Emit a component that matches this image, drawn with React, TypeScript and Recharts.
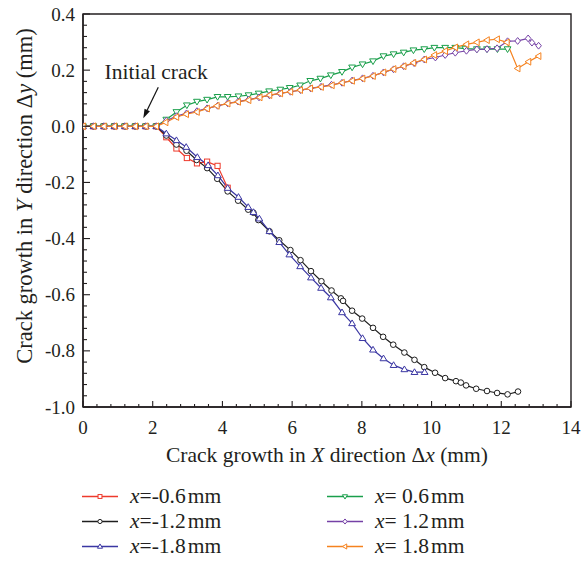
import React from "react";
import {
  LineChart,
  Line,
  XAxis,
  YAxis,
  Legend,
  ReferenceArea,
  ReferenceLine,
  ReferenceDot,
} from "recharts";

type Pt = [number, number];

// shared flat start (all six curves sit on 0 before the crack turns)
const start: Pt[] = [
  [0, 0], [0.3, 0], [0.6, 0], [0.9, 0], [1.2, 0], [1.5, 0], [1.8, 0], [2.1, 0],
];

const xm06: Pt[] = [
  ...start,
  [2.39, -0.039], [2.68, -0.079], [2.98, -0.113], [3.27, -0.132], [3.56, -0.126],
  [3.86, -0.141], [4.15, -0.219],
];

const xm12: Pt[] = [
  ...start,
  [2.39, -0.033], [2.68, -0.065], [2.97, -0.087], [3.26, -0.12], [3.56, -0.149],
  [3.85, -0.187], [4.15, -0.232], [4.45, -0.265], [4.74, -0.297], [4.89, -0.308],
  [5.03, -0.334], [5.35, -0.374], [5.63, -0.406], [5.95, -0.441], [6.24, -0.477],
  [6.54, -0.516], [6.84, -0.552], [7.13, -0.585], [7.4, -0.613], [7.46, -0.622],
  [7.72, -0.657], [8.01, -0.685], [8.32, -0.718], [8.61, -0.75], [8.9, -0.778],
  [9.22, -0.806], [9.51, -0.832], [9.79, -0.858], [10.1, -0.878], [10.39, -0.897],
  [10.7, -0.908], [10.84, -0.913], [10.99, -0.923], [11.28, -0.935], [11.59, -0.943],
  [11.88, -0.95], [12.18, -0.955], [12.48, -0.945],
];

const xm18: Pt[] = [
  ...start,
  [2.39, -0.026], [2.68, -0.05], [2.96, -0.074], [3.28, -0.11], [3.59, -0.139],
  [3.87, -0.175], [4.15, -0.22], [4.46, -0.252], [4.74, -0.288], [4.89, -0.306],
  [5.06, -0.329], [5.35, -0.374], [5.63, -0.413], [5.92, -0.457], [6.23, -0.499],
  [6.54, -0.539], [6.83, -0.576], [7.11, -0.61], [7.43, -0.663], [7.72, -0.702],
  [8.02, -0.755], [8.32, -0.796], [8.62, -0.827], [8.91, -0.851], [9.22, -0.866],
  [9.51, -0.876], [9.8, -0.876],
];

const xp06: Pt[] = [
  ...start,
  [2.39, 0.024], [2.68, 0.051], [2.98, 0.075], [3.27, 0.088], [3.56, 0.095],
  [3.86, 0.105], [4.15, 0.105], [4.46, 0.107], [4.75, 0.111], [5.04, 0.117],
  [5.34, 0.125], [5.66, 0.131], [5.93, 0.137], [6.23, 0.146], [6.52, 0.162],
  [6.81, 0.17], [7.11, 0.182], [7.43, 0.194], [7.72, 0.21], [8.02, 0.221],
  [8.32, 0.232], [8.62, 0.25], [8.91, 0.257], [9.2, 0.263], [9.48, 0.271],
  [9.79, 0.275], [10.08, 0.28], [10.39, 0.28], [10.68, 0.28], [10.97, 0.277],
  [11.3, 0.275], [11.59, 0.275], [11.89, 0.275], [12.18, 0.275],
];

const xp12: Pt[] = [
  ...start,
  [2.39, 0.02], [2.68, 0.036], [2.97, 0.046], [3.27, 0.054], [3.56, 0.064],
  [3.86, 0.073], [4.15, 0.082], [4.45, 0.088], [4.75, 0.095], [5.05, 0.103],
  [5.35, 0.11], [5.65, 0.117], [5.95, 0.123], [6.24, 0.129], [6.53, 0.135],
  [6.83, 0.141], [7.13, 0.148], [7.43, 0.155], [7.72, 0.163], [8.02, 0.171],
  [8.32, 0.18], [8.62, 0.192], [8.91, 0.203], [9.2, 0.214], [9.5, 0.225],
  [9.79, 0.238], [10.11, 0.245], [10.39, 0.254], [10.68, 0.262], [11.0, 0.269],
  [11.3, 0.274], [11.59, 0.275], [11.88, 0.278], [12.18, 0.303], [12.47, 0.304],
  [12.77, 0.313], [12.88, 0.298], [13.07, 0.287],
];

const xp18: Pt[] = [
  ...start,
  [2.37, 0.014], [2.68, 0.033], [2.96, 0.043], [3.27, 0.051], [3.56, 0.063],
  [3.84, 0.073], [4.15, 0.081], [4.45, 0.087], [4.75, 0.093], [5.07, 0.103],
  [5.35, 0.111], [5.66, 0.117], [5.95, 0.123], [6.23, 0.129], [6.52, 0.135],
  [6.83, 0.14], [7.14, 0.146], [7.43, 0.155], [7.72, 0.162], [8.02, 0.17],
  [8.32, 0.179], [8.62, 0.192], [8.91, 0.204], [9.2, 0.214], [9.48, 0.226],
  [9.79, 0.238], [10.08, 0.254], [10.39, 0.268], [10.68, 0.281], [11.0, 0.292],
  [11.3, 0.299], [11.59, 0.307], [11.88, 0.31], [12.16, 0.299], [12.47, 0.206],
  [12.78, 0.23], [13.07, 0.25],
];

const xMajor = [0, 2, 4, 6, 8, 10, 12, 14];
const yMajor = [-1.0, -0.8, -0.6, -0.4, -0.2, 0.0, 0.2, 0.4];

const FONT = "'Liberation Serif', 'Times New Roman', serif";
const INK = "#231f20";

type Shape = "square" | "circle" | "up" | "down" | "diamond" | "left";

const SERIES: { key: string; label: string; color: string; shape: Shape; pts: Pt[] }[] = [
  { key: "m06", label: "=-0.6", color: "#ee3a2c", shape: "square", pts: xm06 },
  { key: "m12", label: "=-1.2", color: "#1e1e1e", shape: "circle", pts: xm12 },
  { key: "m18", label: "=-1.8", color: "#3b37a3", shape: "up", pts: xm18 },
  { key: "p06", label: "= 0.6", color: "#1a9f4b", shape: "down", pts: xp06 },
  { key: "p12", label: "= 1.2", color: "#7541a6", shape: "diamond", pts: xp12 },
  { key: "p18", label: "= 1.8", color: "#f5821f", shape: "left", pts: xp18 },
];

// minor ticks: 5 per major interval
const xTicks = Array.from({ length: 36 }, (_, k) => Math.round(k * 0.4 * 100) / 100);
const yTicks = Array.from({ length: 36 }, (_, k) => Math.round((-1 + k * 0.04) * 100) / 100);
const near = (v: number, list: number[]) => list.some((m) => Math.abs(m - v) < 1e-6);

function Marker({ cx, cy, shape, color, s = 1 }: { cx: number; cy: number; shape: Shape; color: string; s?: number }) {
  const common = { fill: "#fff", stroke: color, strokeWidth: 1 };
  const a = 3.4 * s;
  const b = 2.3 * s;
  switch (shape) {
    case "square":
      return <rect x={cx - 2.6 * s} y={cy - 2.6 * s} width={5.2 * s} height={5.2 * s} {...common} />;
    case "circle":
      return <circle cx={cx} cy={cy} r={2.8 * s} {...common} />;
    case "up":
      return <polygon points={`${cx},${cy - a} ${cx + a},${cy + b} ${cx - a},${cy + b}`} {...common} />;
    case "down":
      return <polygon points={`${cx},${cy + a} ${cx + a},${cy - b} ${cx - a},${cy - b}`} {...common} />;
    case "diamond":
      return <polygon points={`${cx},${cy - a} ${cx + 2.8 * s},${cy} ${cx},${cy + a} ${cx - 2.8 * s},${cy}`} {...common} />;
    default:
      return <polygon points={`${cx - a},${cy} ${cx + b},${cy - a} ${cx + b},${cy + a}`} {...common} />;
  }
}

const XTick = (props: any) => {
  const { x, y, payload } = props;
  const v = payload.value as number;
  const major = near(v, xMajor);
  return (
    <g>
      <line x1={x} x2={x} y1={y} y2={y - (major ? 6 : 3)} stroke={INK} strokeWidth={1.1} />
      {major && (
        <text x={x} y={y + 27} textAnchor="middle" fontFamily={FONT} fontSize={19} fill={INK}>
          {Math.round(v)}
        </text>
      )}
    </g>
  );
};

const YTick = (props: any) => {
  const { x, y, payload } = props;
  const v = payload.value as number;
  const major = near(v, yMajor);
  return (
    <g>
      <line x1={x} x2={x + (major ? 7 : 4)} y1={y} y2={y} stroke={INK} strokeWidth={1.1} />
      {major && (
        <text x={x - 8} y={y + 6.5} textAnchor="end" fontFamily={FONT} fontSize={19} fill={INK}>
          {v.toFixed(1)}
        </text>
      )}
    </g>
  );
};

const XTitle = (props: any) => {
  const vb = props.viewBox || { x: 83, y: 407, width: 488 };
  return (
    <text x={vb.x + vb.width / 2} y={vb.y + 55} textAnchor="middle" fontFamily={FONT} fontSize={21.5} fill={INK}>
      Crack growth in <tspan fontStyle="italic">X</tspan> direction Δ<tspan fontStyle="italic">x</tspan> (mm)
    </text>
  );
};

const YTitle = () => (
  <text
    x={32}
    y={196}
    transform="rotate(-90 32 196)"
    textAnchor="middle"
    fontFamily={FONT}
    fontSize={22.5}
    fill={INK}
  >
    Crack growth in <tspan fontStyle="italic">Y</tspan> direction Δ<tspan fontStyle="italic">y</tspan> (mm)
  </text>
);

const Arrow = (props: any) => {
  const { x1, y1, x2, y2 } = props;
  const dx = x2 - x1;
  const dy = y2 - y1;
  const len = Math.hypot(dx, dy) || 1;
  const ux = dx / len;
  const uy = dy / len;
  const hl = 9;
  const hw = 3;
  const bx = x2 - ux * hl;
  const by = y2 - uy * hl;
  return (
    <g>
      <line x1={x1} y1={y1} x2={bx} y2={by} stroke="#111" strokeWidth={1.2} />
      <polygon
        points={`${x2},${y2} ${bx - uy * hw},${by + ux * hw} ${bx + uy * hw},${by - ux * hw}`}
        fill="#111"
      />
    </g>
  );
};

const AnnotText = (props: any) => (
  <text x={props.cx} y={props.cy} textAnchor="middle" fontFamily={FONT} fontSize={21.5} fill={INK}>
    Initial crack
  </text>
);

const renderLegend = () => (
  <div
    style={{
      display: "grid",
      gridTemplateColumns: "245px 220px",
      gridTemplateRows: "25px 25px 25px",
      gridAutoFlow: "column",
      fontFamily: FONT,
      fontSize: 21.5,
      color: INK,
    }}
  >
    {SERIES.map((s) => (
      <div key={s.key} style={{ display: "flex", alignItems: "center", height: 25 }}>
        <svg width={36} height={25} style={{ display: "block" }}>
          <line x1={0} x2={36} y1={12.5} y2={12.5} stroke={s.color} strokeWidth={1.3} />
          <Marker cx={18} cy={12.5} shape={s.shape} color={s.color} s={0.75} />
        </svg>
        <span style={{ marginLeft: 12, whiteSpace: "nowrap", lineHeight: "25px" }}>
          <i>x</i>
          {s.label}
          <span style={{ marginLeft: 2 }}>mm</span>
        </span>
      </div>
    ))}
  </div>
);

export default function App() {
  return (
    <div style={{ position: "absolute", left: 0, top: 0, background: "#fff" }}>
      <LineChart width={584} height={563} margin={{ top: 14, right: 13, bottom: 106, left: 0 }}>
        <XAxis
          type="number"
          dataKey="x"
          domain={[0, 14]}
          ticks={xTicks}
          interval={0}
          height={50}
          tickSize={0}
          tickMargin={0}
          tick={<XTick />}
          axisLine={{ stroke: INK, strokeWidth: 1.4 }}
          allowDataOverflow
          label={XTitle}
        />
        <YAxis
          type="number"
          dataKey="y"
          domain={[-1, 0.4]}
          ticks={yTicks}
          interval={0}
          width={83}
          tickSize={0}
          tickMargin={0}
          tick={<YTick />}
          axisLine={{ stroke: INK, strokeWidth: 1.4 }}
          allowDataOverflow
          label={YTitle}
        />
        <ReferenceArea x1={0} x2={14} y1={-1} y2={0.4} fill="none" stroke={INK} strokeWidth={1.4} />
        <ReferenceLine
          segment={[
            { x: 2.16, y: 0.139 },
            { x: 1.73, y: 0.029 },
          ]}
          shape={Arrow}
        />
        <ReferenceDot x={2.1} y={0.168} r={0} shape={AnnotText} />
        {SERIES.map((s) => (
          <Line
            key={s.key}
            data={s.pts.map(([x, y]) => ({ x, y }))}
            dataKey="y"
            type="linear"
            stroke={s.color}
            strokeWidth={1.2}
            isAnimationActive={false}
            dot={(p: any) => (
              <Marker key={`${s.key}-${p.index}`} cx={p.cx} cy={p.cy} shape={s.shape} color={s.color} />
            )}
            activeDot={false}
            legendType="none"
          />
        ))}
        <Legend
          layout="vertical"
          align="center"
          verticalAlign="middle"
          content={renderLegend}
          wrapperStyle={{ left: 82, top: 484, width: 470 }}
        />
      </LineChart>
    </div>
  );
}
